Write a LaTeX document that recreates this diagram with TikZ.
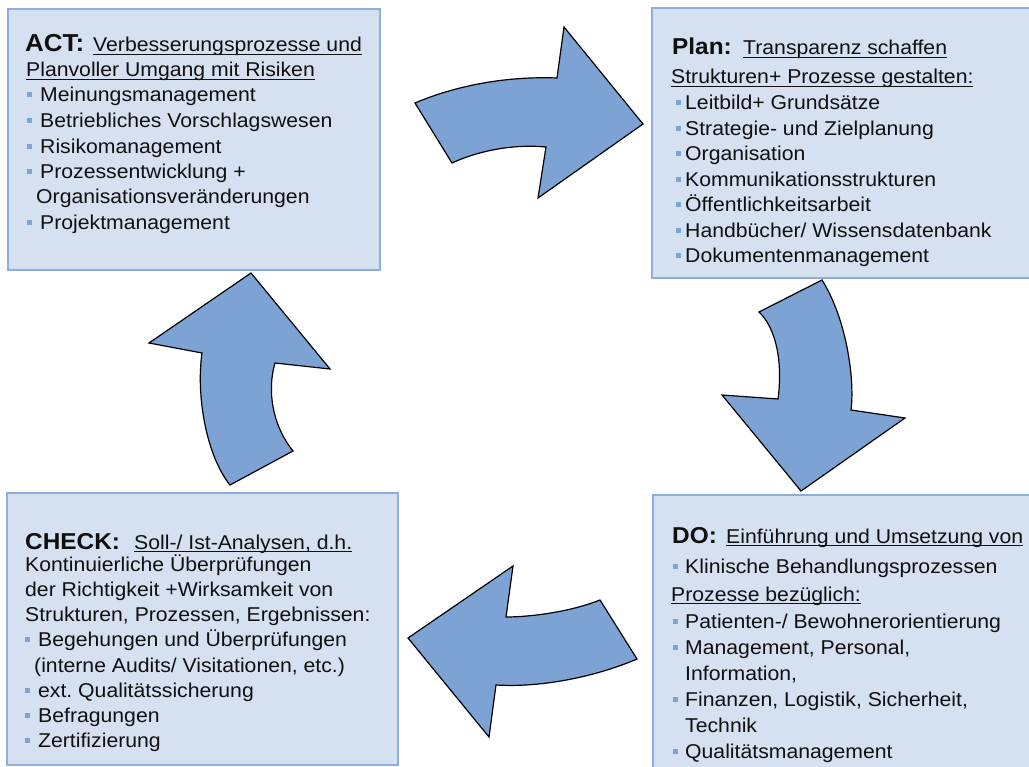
\documentclass[tikz,border=0pt]{standalone}
\usepackage{fontspec}
\setmainfont{Liberation Sans}[FakeStretch=1.06]
\frenchspacing
\definecolor{boxfill}{HTML}{D5E0F0}
\definecolor{boxline}{HTML}{8EAEDC}
\definecolor{arrowfill}{HTML}{7DA3D4}
\definecolor{bulc}{HTML}{7EA4D6}
\definecolor{textc}{HTML}{101010}
\newlength\ulw
% underlined text with the rule crossing the descenders
\newcommand\ulin[1]{\settowidth\ulw{#1}\rlap{\rule[-3.2pt]{\ulw}{1.1pt}}#1}
% square bullet followed by a gap (in pt)
\newcommand\bsq[1]{\textcolor{bulc}{\rule[4.5pt]{5pt}{5pt}}\hspace{#1pt}}
\tikzset{
  txt/.style={anchor=base west, inner sep=0pt, font=\fontsize{20}{24}\selectfont, text=textc},
  ttl/.style={anchor=base west, inner sep=0pt, font=\fontsize{23}{27}\selectfont\bfseries, text=textc},
  panel/.style={draw=boxline, fill=boxfill, line width=2pt},
  blockarrow/.style={fill=arrowfill, draw=black, line width=1.2pt, line join=miter},
}
\begin{document}
\begin{tikzpicture}[x=1pt,y=-1pt]
\useasboundingbox (0,0) rectangle (1029,767);
\clip (0,0) rectangle (1029,767);
\fill[white] (0,0) rectangle (1029,767);

% ---------- panels ----------
\draw[panel] (8,9) rectangle (380,270);
\draw[panel] (652,8) rectangle (1045,278);
\draw[panel] (7,493) rectangle (398,765);
\draw[panel] (653,495) rectangle (1045,790);

% ---------- ACT ----------
\node[ttl, font=\fontsize{24.5}{28}\selectfont\bfseries] (actT) at (25,52) {ACT:};
\node[txt] (actS) at (93,52) {\ulin{Verbesserungsprozesse und}};
\node[txt] (act2) at (26,77) {\ulin{Planvoller Umgang mit Risiken}};
\node[txt] (act3) at (27,102) {\bsq{8}Meinungsmanagement};
\node[txt] (act4) at (27,128) {\bsq{8}Betriebliches Vorschlagswesen};
\node[txt] (act5) at (27,153.5) {\bsq{8}Risikomanagement};
\node[txt] (act6) at (27,179) {\bsq{8}Prozessentwicklung +};
\node[txt] (act7) at (36,204) {Organisationsveränderungen};
\node[txt] (act8) at (27,230) {\bsq{8}Projektmanagement};

% ---------- PLAN ----------
\node[ttl] (planT) at (672,55) {Plan:};
\node[txt] (planS) at (743,55) {\ulin{Transparenz schaffen}};
\node[txt] (plan2) at (671,84) {\ulin{Strukturen+ Prozesse gestalten:}};
\node[txt] (plan3) at (676,110) {\bsq{4}Leitbild+ Grundsätze};
\node[txt] (plan4) at (676,136) {\bsq{4}Strategie- und Zielplanung};
\node[txt] (plan5) at (676,161) {\bsq{4}Organisation};
\node[txt] (plan6) at (676,187) {\bsq{4}Kommunikationsstrukturen};
\node[txt] (plan7) at (676,212) {\bsq{4}Öffentlichkeitsarbeit};
\node[txt] (plan8) at (676,238) {\bsq{4}Handbücher/ Wissensdatenbank};
\node[txt] (plan9) at (676,263) {\bsq{4}Dokumentenmanagement};

% ---------- CHECK ----------
\node[ttl] (chkT) at (25,549) {CHECK:};
\node[txt] (chkS) at (134,549) {\ulin{Soll-/ Ist-Analysen, d.h.}};
\node[txt] (chk2) at (25,571) {Kontinuierliche Überprüfungen};
\node[txt] (chk3) at (25,596) {der Richtigkeit +Wirksamkeit von};
\node[txt] (chk4) at (25,621) {Strukturen, Prozessen, Ergebnissen:};
\node[txt] (chk5) at (25,646) {\bsq{8}Begehungen und Überprüfungen};
\node[txt] (chk6) at (34,672) {(interne Audits/ Visitationen, etc.)};
\node[txt] (chk7) at (25,697) {\bsq{8}ext. Qualitätssicherung};
\node[txt] (chk8) at (25,722) {\bsq{8}Befragungen};
\node[txt] (chk9) at (25,747) {\bsq{8}Zertifizierung};

% ---------- DO ----------
\node[ttl] (doT) at (672,543) {DO:};
\node[txt] (doS) at (726,543) {\ulin{Einführung und Umsetzung von}};
\node[txt] (do2) at (673,573) {\bsq{7}Klinische Behandlungsprozessen};
\node[txt] (do3) at (671,601) {\ulin{Prozesse bezüglich:}};
\node[txt] (do4) at (673,628) {\bsq{7}Patienten-/ Bewohnerorientierung};
\node[txt] (do5) at (673,654) {\bsq{7}Management, Personal,};
\node[txt] (do6) at (685,680) {Information,};
\node[txt] (do7) at (673,706) {\bsq{7}Finanzen, Logistik, Sicherheit,};
\node[txt] (do8) at (685,732) {Technik};
\node[txt] (do9) at (673,758) {\bsq{7}Qualitätsmanagement};

% ---------- curved block arrows ----------
% ACT -> Plan
\draw[blockarrow] (415,103) .. controls (455,86) and (505,76) .. (557,78)
  -- (564,27) -- (643,124) -- (538,198) -- (546,147)
  .. controls (515,144) and (480,150) .. (452,163) -- cycle;
% Plan -> DO
\draw[blockarrow] (822,280) -- (759,312)
  .. controls (776,328) and (783,362) .. (778,399)
  -- (722,395) -- (801,491) -- (905,418) -- (851,410)
  .. controls (855,378) and (846,318) .. (822,280) -- cycle;
% DO -> CHECK
\draw[blockarrow] (513,566) -- (506,617)
  .. controls (530,617) and (570,612) .. (600,600)
  -- (637,659) .. controls (600,675) and (545,688) .. (496,685)
  -- (489,737) -- (408,638) -- cycle;
% CHECK -> ACT
\draw[blockarrow] (251,273) -- (330,369) -- (275,363)
  .. controls (267,390) and (272,425) .. (293,451)
  -- (230,485) .. controls (206,455) and (196,395) .. (202,353)
  -- (149,343) -- cycle;
\end{tikzpicture}
\end{document}
